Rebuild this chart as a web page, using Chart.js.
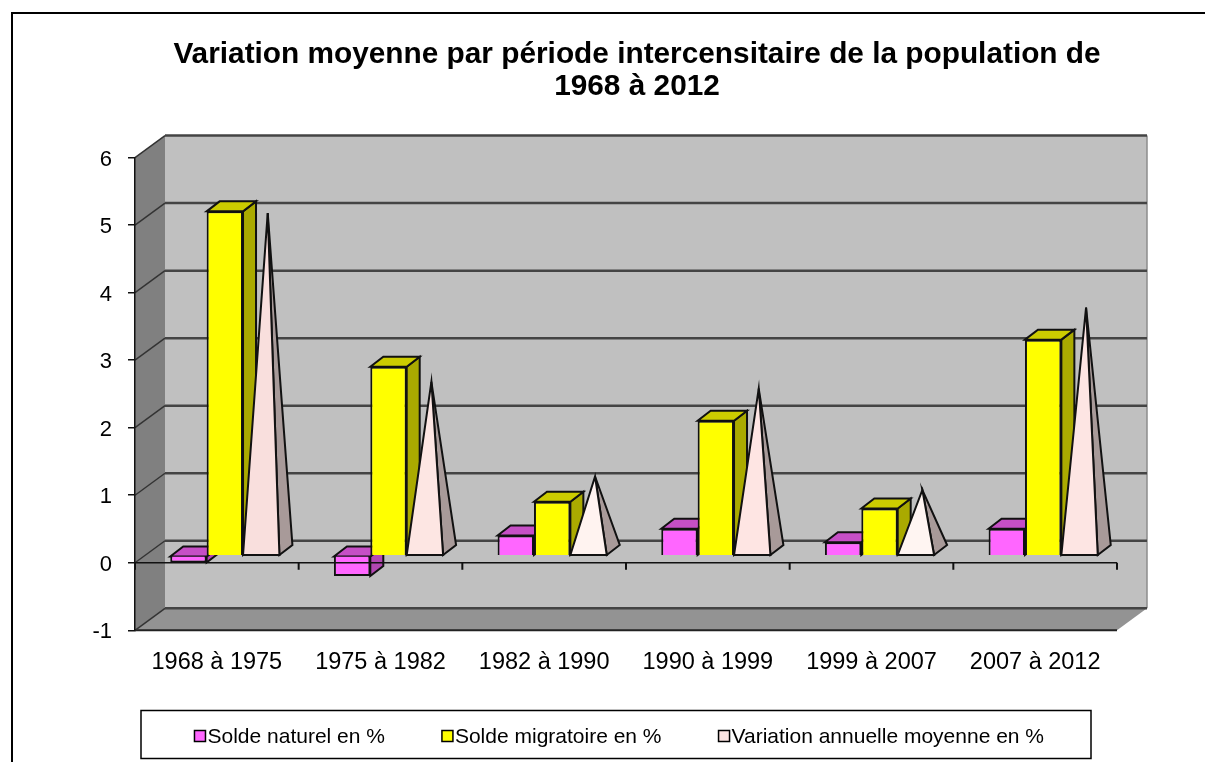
<!DOCTYPE html>
<html>
<head>
<meta charset="utf-8">
<title>Variation moyenne</title>
<script src="https://cdn.jsdelivr.net/npm/chart.js@4"></script>
<style>
  html, body { margin: 0; background: #fff; }
  canvas { display: block; }
</style>
</head>
<body>
<canvas id="graphique" width="1205" height="762"></canvas>
<script>
// Valeurs
const periodes = ['1968 à 1975', '1975 à 1982', '1982 à 1990', '1990 à 1999', '1999 à 2007', '2007 à 2012'];
const soldeNaturel = [-0.1, -0.3, 0.3, 0.4, 0.2, 0.4];
const soldeMigratoire = [5.1, 2.8, 0.8, 2.0, 0.7, 3.2];
const variationAnnuelle = [5.0, 2.5, 1.1, 2.4, 0.9, 3.6];
const titre = ['Variation moyenne par période intercensitaire de la population de', '1968 à 2012'];

// Couleurs : face avant, dessus, côté
const couleursFace = ['#ff66ff', '#ffff00', '#fbe3e1'];
const couleursDessus = ['#c64fc6', '#cccc00', '#c9b6b4'];
const couleursCote = ['#b347b3', '#aaaa00', '#a89a99'];
const couleursPyramide = ['#f9dfdd', '#fde6e3', '#fff3f0', '#fee5e3', '#fff5f2', '#fde5e3'];

const police = '"Liberation Sans", Arial, sans-serif';

// Profondeur du décor 3D et des barres, en pixels
const murX = 30, murY = 22;
const barreX = 13, barreY = 10;
const decalX = 8, decalY = 7;

function polygone(ctx, pts, fond, trait, epaisseur) {
    ctx.beginPath();
    pts.forEach((p, i) => i ? ctx.lineTo(p[0], p[1]) : ctx.moveTo(p[0], p[1]));
    ctx.closePath();
    if (fond) { ctx.fillStyle = fond; ctx.fill(); }
    if (trait) { ctx.strokeStyle = trait; ctx.lineWidth = epaisseur || 1.5; ctx.stroke(); }
}

function ligne(ctx, x1, y1, x2, y2, couleur, epaisseur) {
    ctx.beginPath();
    ctx.moveTo(x1, y1);
    ctx.lineTo(x2, y2);
    ctx.strokeStyle = couleur;
    ctx.lineWidth = epaisseur;
    ctx.stroke();
}

// Cadre, légende encadrée, murs et sol
const decor = {
    id: 'decor',
    afterLayout(chart) {
        chart.titleBlock.left += 38;
        chart.titleBlock.right += 38;
        chart.legend.left += 21;
        chart.legend.right += 21;
        chart.legend.top = 668;
    },
    beforeDraw(chart) {
        const ctx = chart.ctx;
        const y = chart.scales.y, a = chart.chartArea;
        const haut = y.getPixelForValue(6), bas = y.getPixelForValue(-1);
        ctx.save();
        ctx.fillStyle = '#fff';
        ctx.fillRect(0, 0, chart.width, chart.height);
        ligne(ctx, 12, 13, 1205, 13, '#000', 2);
        ligne(ctx, 12, 12, 12, 762, '#000', 2);
        ctx.strokeStyle = '#000';
        ctx.lineWidth = 1.5;
        ctx.strokeRect(141, 710.5, 950, 48);

        polygone(ctx, [[a.left + murX, haut - murY], [a.right + murX, haut - murY], [a.right + murX, bas - murY], [a.left + murX, bas - murY]], '#c0c0c0');
        polygone(ctx, [[a.left, haut], [a.left + murX, haut - murY], [a.left + murX, bas - murY], [a.left, bas]], '#808080');
        polygone(ctx, [[a.left, bas], [a.left + murX, bas - murY], [a.right + murX, bas - murY], [a.right, bas]], '#939393');
        ligne(ctx, a.right + murX, haut - murY, a.right + murX, bas - murY, '#8c8c8c', 1.5);
        ligne(ctx, a.left, bas, a.right, bas, '#222', 2);

        y.ticks.forEach(t => {
            const py = y.getPixelForValue(t.value);
            ligne(ctx, a.left, py, a.left + murX, py - murY, '#333', 1.5);
            ligne(ctx, a.left + murX, py - murY, a.right + murX, py - murY, '#444', 2.5);
        });
        ctx.restore();
    },
    // Ordre de dessin des séries : la pyramide passe devant les barres
    beforeDatasetsDraw(chart) {
        const ctx = chart.ctx;
        ctx.save();
        ctx.translate(decalX, -decalY);
        chart.data.datasets.forEach((ds, i) => {
            const meta = chart.getDatasetMeta(i);
            meta.data.forEach((el, j) => {
                const g = el.x - el.width / 2, d = el.x + el.width / 2;
                if (ds.pyramide) {
                    polygone(ctx, [[d, el.base], [d + barreX, el.base - barreY], [el.x + barreX / 2, el.y - barreY / 2]], couleursCote[i], '#111', 2);
                    polygone(ctx, [[g, el.base], [d, el.base], [el.x + barreX / 2, el.y - barreY / 2]], couleursPyramide[j], '#111', 2);
                } else {
                    const h = Math.min(el.y, el.base), b = Math.max(el.y, el.base);
                    polygone(ctx, [[d, h], [d + barreX, h - barreY], [d + barreX, b - barreY], [d, b]], couleursCote[i], '#111', 2);
                    polygone(ctx, [[g, h], [g + barreX, h - barreY], [d + barreX, h - barreY], [d, h]], couleursDessus[i], '#111', 2);
                }
            });
            meta.controller.draw();
        });
        ctx.restore();

        // Axe du zéro, par-dessus les barres
        const y0 = chart.scales.y.getPixelForValue(0), a = chart.chartArea;
        const x = chart.scales.x;
        ctx.save();
        ligne(ctx, a.left, y0, a.right, y0, '#111', 1.5);
        for (let i = 0; i <= periodes.length; i++) {
            const px = i < periodes.length ? x.getPixelForValue(i) - (x.getPixelForValue(1) - x.getPixelForValue(0)) / 2 : a.right;
            ligne(ctx, px, y0, px, y0 + 7, '#111', 2);
        }
        ctx.restore();
        return false;
    },
    // Petits carrés de la légende, collés au texte comme sur l'original
    afterDraw(chart) {
        const ctx = chart.ctx;
        ctx.save();
        chart.legend.legendHitBoxes.forEach((b, i) => {
            const px = b.left + 11.5 - 13, py = b.top + b.height / 2 - 6.5;
            ctx.fillStyle = couleursFace[i];
            ctx.fillRect(px, py, 11, 11);
            ctx.strokeStyle = '#000';
            ctx.lineWidth = 1.5;
            ctx.strokeRect(px, py, 11, 11);
        });
        ctx.restore();
    }
};

new Chart(document.getElementById('graphique').getContext('2d'), {
    type: 'bar',
    plugins: [decor],
    data: {
        labels: periodes,
        datasets: [
            { label: 'Solde naturel en %', data: soldeNaturel, backgroundColor: couleursFace[0], borderColor: '#111', borderWidth: 2 },
            { label: 'Solde migratoire en %', data: soldeMigratoire, backgroundColor: couleursFace[1], borderColor: '#111', borderWidth: 2 },
            { label: 'Variation annuelle moyenne en %', data: variationAnnuelle, backgroundColor: 'transparent', borderWidth: 0, pyramide: true }
        ]
    },
    options: {
        responsive: false,
        animation: false,
        layout: { padding: { top: 38, left: 81, right: 88, bottom: -22 } },
        datasets: { bar: { categoryPercentage: 0.667, barPercentage: 1 } },
        plugins: {
            title: {
                display: true,
                text: titre,
                color: '#000',
                font: { family: police, size: 29.8, weight: 'bold', lineHeight: 1.1 },
                padding: { top: 0, bottom: 54 }
            },
            tooltip: { enabled: false },
            legend: {
                position: 'bottom',
                labels: {
                    color: '#000',
                    font: { family: police, size: 21 },
                    boxWidth: 1,
                    boxHeight: 1,
                    padding: 58.5,
                    generateLabels: chart => chart.data.datasets.map((ds, i) => ({
                        text: ds.label,
                        fillStyle: 'transparent',
                        strokeStyle: 'transparent',
                        lineWidth: 0,
                        datasetIndex: i
                    }))
                }
            }
        },
        scales: {
            x: {
                grid: { display: false, drawTicks: false },
                border: { display: false },
                ticks: { color: '#000', font: { family: police, size: 23.5 }, padding: 18, maxRotation: 0 }
            },
            y: {
                min: -1,
                max: 6,
                grid: { drawOnChartArea: false, color: '#111', lineWidth: 1.5, tickLength: 7, drawTicks: true },
                border: { color: '#111', width: 1.5 },
                ticks: { stepSize: 1, color: '#000', font: { family: police, size: 22 }, padding: 16, labelOffset: 2 },
                afterFit(s) { s.width = 54; }
            }
        }
    }
});
</script>
</body>
</html>
